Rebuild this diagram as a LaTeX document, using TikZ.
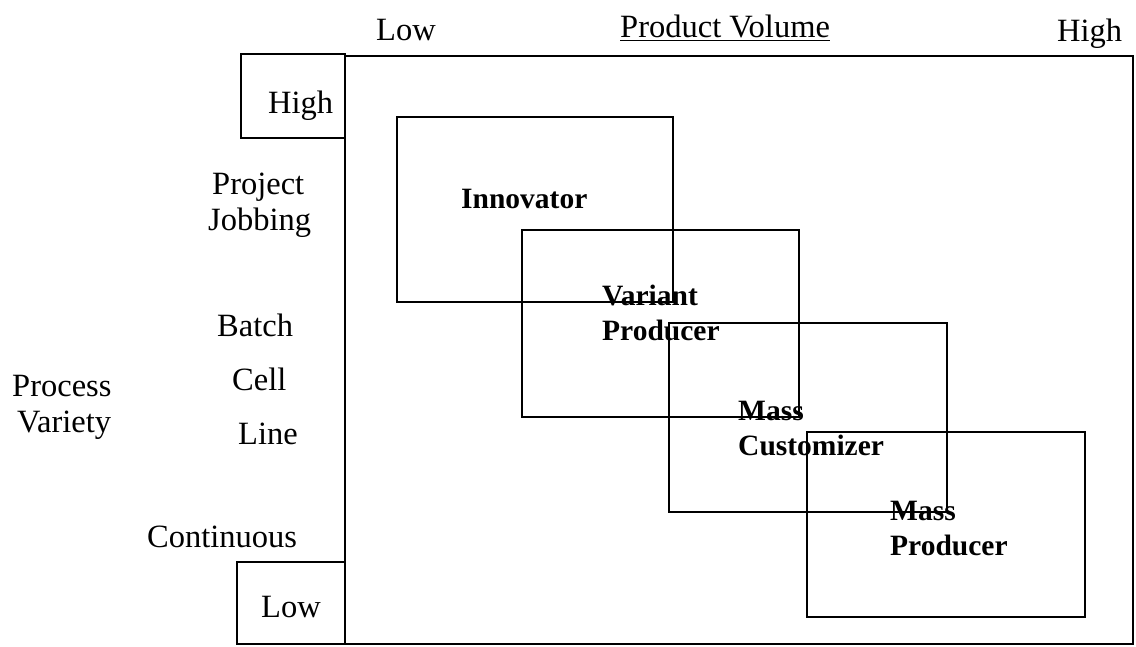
\documentclass[tikz,border=0pt]{standalone}
\usepackage{fontspec}
\setmainfont{Liberation Serif}
\begin{document}
\begin{tikzpicture}[x=1pt,y=-1pt,
  frame/.style={draw=black,line width=1.7pt},
  lbl/.style={anchor=base west,inner sep=0pt,font=\fontsize{32.5}{36}\selectfont},
  blbl/.style={anchor=base west,inner sep=0pt,align=left,
    font=\fontsize{29.5}{35}\selectfont\bfseries}]
\useasboundingbox (0,0) rectangle (1136,647);

% axis frame and the two end boxes of the process axis
\draw[frame] (345,56) rectangle (1133,644);
\draw[frame] (241,54) rectangle (345,138);
\draw[frame] (237,562) rectangle (345,644);

% overlapping producer regions
\draw[frame] (397,117) rectangle (673,302);
\draw[frame] (522,230) rectangle (799,417);
\draw[frame] (669,323) rectangle (947,512);
\draw[frame] (807,432) rectangle (1085,617);

% volume axis labels
\node[lbl] (vlow) at (376,41) {Low};
\node[lbl] (vtitle) at (620,38) {\underline{Product Volume}};
\node[lbl] (vhigh) at (1057,42) {High};

% process axis labels
\node[lbl] (phigh) at (268,114) {High};
\node[lbl] (plow) at (261,617) {Low};
\node[lbl] (project) at (212,195) {Project};
\node[lbl] (jobbing) at (208,231) {Jobbing};
\node[lbl] (batch) at (217,336) {Batch};
\node[lbl] (cell) at (232,390) {Cell};
\node[lbl] (line) at (238,444) {Line};
\node[lbl] (continuous) at (147,547) {Continuous};
\node[lbl] (process) at (12,396) {Process};
\node[lbl] (variety) at (17,432) {Variety};

% region names (base anchor sits on the last line)
\node[blbl] (innovator) at (461,209) {Innovator};
\node[blbl] (variant) at (602,340) {Variant\\Producer};
\node[blbl] (custom) at (738,455) {Mass\\Customizer};
\node[blbl] (massprod) at (890,555) {Mass\\Producer};
\end{tikzpicture}
\end{document}
